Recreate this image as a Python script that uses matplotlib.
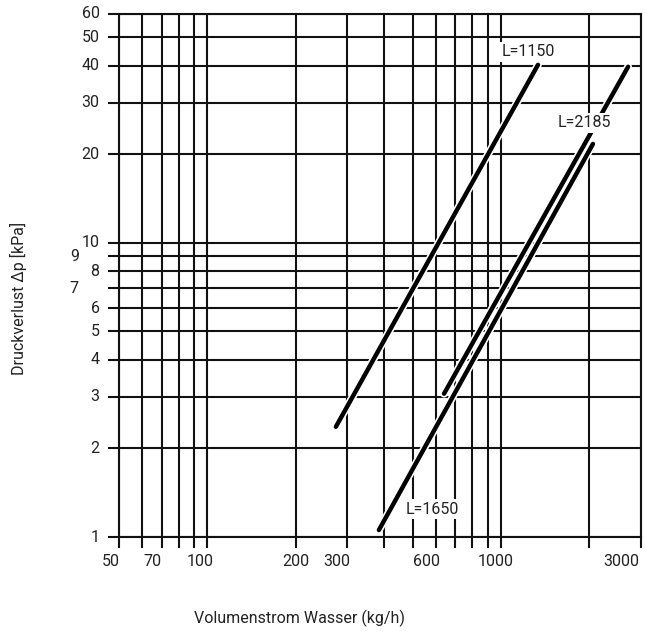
import matplotlib
matplotlib.use("Agg")
import matplotlib.pyplot as plt
import matplotlib.patheffects as pe
from matplotlib.transforms import offset_copy

plt.rcParams["font.family"] = ["Roboto", "DejaVu Sans"]

# pressure-drop lines for the three lengths (two end points each, log-log straight)
curve_names = ["L=1150", "L=2185", "L=1650"]
flow_1150 = [274, 1337]
dp_1150 = [2.37, 40.3]
flow_2185 = [640, 2711]
dp_2185 = [3.07, 39.7]
flow_1650 = [384, 2058]
dp_1650 = [1.056, 21.7]

# where each curve label sits (flow, pressure)
label_flow = [1236, 1931, 586]
label_dp = [44.6, 25.6, 1.245]

x_grid = [50, 60, 70, 80, 90, 100, 200, 300, 400, 500, 600, 700, 800, 900, 1000, 2000, 3000]
x_labels = [50, 70, 100, 200, 300, 600, 1000, 3000]
y_grid = [1, 2, 3, 4, 5, 6, 7, 8, 9, 10, 20, 30, 40, 50, 60]
y_labels = [1, 2, 3, 4, 5, 6, 7, 8, 9, 10, 20, 30, 40, 50, 60]

# small sideways nudges of the printed labels (points)
x_label_shift = {50: -6, 70: -7, 100: -5, 200: 0, 300: -8, 600: -7, 1000: -4, 3000: -14}
y_label_shift = {7: -15, 9: -15}

fig = plt.figure(figsize=(6.46, 6.31), dpi=100)
ax = fig.add_axes([119 / 646, (631 - 537) / 631, (641 - 119) / 646, (537 - 14) / 631])
ax.set_xscale("log")
ax.set_yscale("log")
ax.set_xlim(50, 3000)
ax.set_ylim(1, 60)

grid_kw = dict(color="#111111", lw=1.5, zorder=1)
for xv in x_grid:
    ax.axvline(xv, **grid_kw)
for yv in y_grid:
    ax.axhline(yv, **grid_kw)

ax.set_xticks(x_grid, [""] * len(x_grid))
ax.set_yticks(y_grid, [""] * len(y_grid))
ax.xaxis.set_minor_locator(matplotlib.ticker.NullLocator())
ax.yaxis.set_minor_locator(matplotlib.ticker.NullLocator())
ax.tick_params(direction="out", length=8, width=1.5, color="#111111")
for s in ax.spines.values():
    s.set_linewidth(1.5)
    s.set_color("#111111")

tick_font = dict(fontsize=11.5, color="#222222")
xtrans = ax.get_xaxis_transform()
for xv in x_labels:
    tr = offset_copy(xtrans, fig=fig, x=x_label_shift.get(xv, 0), y=-12, units="points")
    ax.text(xv, 0, str(xv), transform=tr, ha="center", va="top", **tick_font)
ytrans = ax.get_yaxis_transform()
for yv in y_labels:
    tr = offset_copy(ytrans, fig=fig, x=-14 + y_label_shift.get(yv, 0), y=0, units="points")
    ax.text(0, yv, str(yv), transform=tr, ha="right", va="center", **tick_font)

halo = [pe.Stroke(linewidth=5.6, foreground="white"), pe.Normal()]
curves = [(flow_1150, dp_1150), (flow_2185, dp_2185), (flow_1650, dp_1650)]
for (fx, fy) in curves:
    ax.plot(fx, fy, color="black", lw=3.2, solid_capstyle="round",
            path_effects=halo, zorder=3)

for name, lx, ly in zip(curve_names, label_flow, label_dp):
    ax.text(lx, ly, name, ha="center", va="center", fontsize=11.5, color="#222222",
            zorder=4, bbox=dict(boxstyle="square,pad=0.15", fc="white", ec="none"))

fig.text(299 / 646, 1 - 618 / 631, "Volumenstrom Wasser (kg/h)", ha="center", va="center",
         fontsize=11.5, color="#222222")
fig.text(18 / 646, 1 - 298 / 631, "Druckverlust Δp [kPa]", ha="center", va="center",
         rotation=90, fontsize=11.5, color="#222222")

fig.savefig("out.png", dpi=100)
